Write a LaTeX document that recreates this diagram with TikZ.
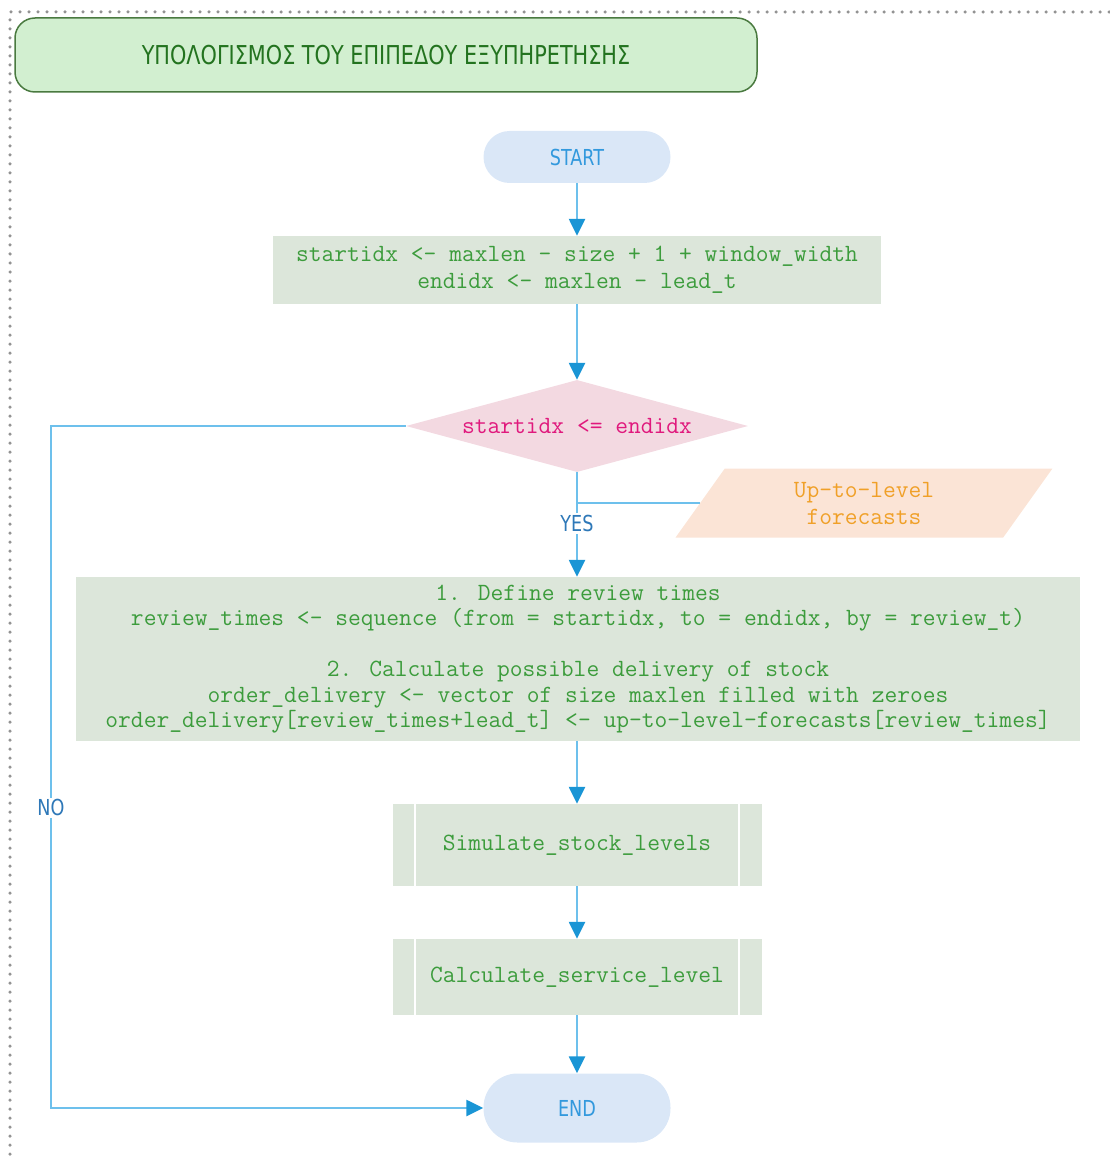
\documentclass[tikz,border=0pt]{standalone}
\usepackage{fontspec}
\newfontfamily\condsans[FakeStretch=0.8]{DejaVu Sans}
\usetikzlibrary{positioning,shapes.geometric,arrows.meta}

\definecolor{titlefill}{HTML}{D2EFD0}
\definecolor{titledraw}{HTML}{4A7A40}
\definecolor{titletext}{HTML}{23731F}
\definecolor{termfill}{HTML}{DAE7F7}
\definecolor{termtext}{HTML}{3399DD}
\definecolor{procfill}{HTML}{DCE6DA}
\definecolor{proctext}{HTML}{3C9C3C}
\definecolor{decfill}{HTML}{F3D9E1}
\definecolor{dectext}{HTML}{E0197D}
\definecolor{inpfill}{HTML}{FBE4D6}
\definecolor{inptext}{HTML}{F0A028}
\definecolor{lineblue}{HTML}{6DC0EC}
\definecolor{tipblue}{HTML}{1A95D5}
\definecolor{labblue}{HTML}{2E78B8}

\tikzset{
  code/.style={font=\ttfamily\fontsize{24.8}{27}\selectfont},
  titlebox/.style={draw=titledraw, line width=1.5pt, fill=titlefill, rounded corners=20pt,
    text=titletext, font=\condsans\fontsize{26}{30}\selectfont, minimum width=742pt, minimum height=74pt},
  term/.style={fill=termfill, text=termtext, rounded corners=26pt, minimum width=187pt,
    minimum height=52pt, font=\condsans\fontsize{22}{26}\selectfont},
  proc/.style={fill=procfill, text=proctext, code, align=center, inner sep=0pt},
  dec/.style={diamond, fill=decfill, text=dectext, code, aspect=3.7, inner sep=0pt,
    minimum width=342pt, minimum height=92pt},
  inp/.style={trapezium, trapezium left angle=62, trapezium right angle=118, trapezium stretches=true,
    fill=inpfill, text=inptext, code, align=center, minimum width=378pt, minimum height=69pt},
  flow/.style={draw=lineblue, line width=2.5pt, -{Triangle[length=17pt,width=16pt,color=tipblue]}},
  link/.style={draw=lineblue, line width=2.5pt},
  lab/.style={fill=white, text=labblue, inner sep=2pt, font=\condsans\fontsize{22}{26}\selectfont}
}

\begin{document}
\begin{tikzpicture}[x=1pt, y=-1pt]
\def\xm{577}
\useasboundingbox (0,0) rectangle (1109,1158);
\draw[gray!85, line width=3.5pt, line cap=round, dash pattern=on 0pt off 9pt] (1109,12) -- (10,12) -- (10,1158);

\node[titlebox] (title) at (386,55) {ΥΠΟΛΟΓΙΣΜΟΣ ΤΟΥ ΕΠΙΠΕΔΟΥ ΕΞΥΠΗΡΕΤΗΣΗΣ};
\node[term] (start) at (\xm,157) {START};
\node[proc, minimum width=608pt, minimum height=68pt] (init) at (\xm,270)
  {startidx <- maxlen - size + 1 + window\_width\\endidx <- maxlen - lead\_t};
\node[dec] (cond) at (\xm,426) {startidx <= endidx};
\node[inp] (fc) at (864,503) {Up-to-level\\forecasts};
\node[proc, minimum width=1004pt, minimum height=164pt, font=\ttfamily\fontsize{24.8}{25.5}\selectfont] (review) at (578,659)
  {1. Define review times\\
   review\_times <- sequence (from = startidx, to = endidx, by = review\_t)\\[25.5pt]
   2. Calculate possible delivery of stock\\
   order\_delivery <- vector of size maxlen filled with zeroes\\
   order\_delivery[review\_times+lead\_t] <- up-to-level-forecasts[review\_times]};
\node[proc, minimum width=369pt, minimum height=82pt] (sim) at (\xm,845) {Simulate\_stock\_levels};
\node[proc, minimum width=369pt, minimum height=76pt] (serv) at (\xm,977) {Calculate\_service\_level};
\node[term, rounded corners=34pt, minimum height=69pt] (end) at (\xm,1108) {END};

\foreach \n in {sim, serv} {
  \draw[white, line width=2pt] ([xshift=23pt]\n.north west) -- ([xshift=23pt]\n.south west);
  \draw[white, line width=2pt] ([xshift=-23pt]\n.north east) -- ([xshift=-23pt]\n.south east);
}

\coordinate (bend) at (51,426);
\draw[flow] (start) -- (init);
\draw[flow] (init) -- (cond);
\draw[flow] (cond.south) -- node[lab, pos=0.49] {YES} (cond.south |- review.north);
\draw[link] (fc.left side) -- (fc.left side -| cond.south);
\draw[flow] (cond.west) -- (bend) |- node[lab, pos=0.28] {NO} (end.west);
\draw[flow] (sim.north |- review.south) -- (sim);
\draw[flow] (sim) -- (serv);
\draw[flow] (serv) -- (end);
\end{tikzpicture}
\end{document}
